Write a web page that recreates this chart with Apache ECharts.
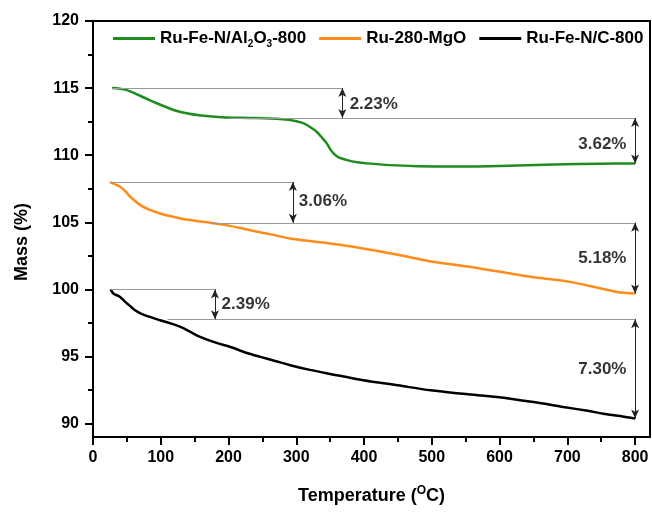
<!DOCTYPE html>
<html>
<head>
<meta charset="utf-8">
<script src="https://cdn.jsdelivr.net/npm/echarts@6/dist/echarts.min.js"></script>
<style>
  html, body { margin: 0; padding: 0; background: #fff; }
  #chart { width: 652px; height: 513px; }
</style>
</head>
<body>
<div id="chart"></div>
<script>
// TGA curves
const tempGreen = [28, 40, 50, 60, 75, 90, 105, 120, 140, 160, 190, 230, 260, 280, 295, 311, 322, 330, 338, 345, 350, 355, 362, 375, 390, 404, 438, 480, 530, 600, 680, 750, 800]
const massGreen = [115.0, 114.95, 114.85, 114.65, 114.3, 113.95, 113.65, 113.35, 113.1, 112.95, 112.83, 112.78, 112.74, 112.68, 112.58, 112.37, 112.05, 111.75, 111.3, 110.88, 110.45, 110.13, 109.85, 109.63, 109.47, 109.39, 109.26, 109.18, 109.15, 109.2, 109.3, 109.37, 109.38]

const tempOrange = [25, 32, 40, 48, 55, 70, 85, 99, 115, 129, 150, 173, 200, 232, 260, 291, 320, 350, 399, 448, 497, 571, 645, 704, 743, 773, 800]
const massOrange = [108.0, 107.85, 107.65, 107.3, 106.9, 106.28, 105.9, 105.66, 105.45, 105.29, 105.12, 104.96, 104.75, 104.41, 104.12, 103.79, 103.6, 103.42, 103.05, 102.6, 102.1, 101.56, 100.94, 100.56, 100.14, 99.81, 99.69]

const tempBlack = [26, 30, 40, 48, 55, 62, 70, 85, 99, 114, 129, 143, 158, 180, 203, 225, 247, 270, 291, 320, 350, 399, 450, 498, 550, 596, 650, 694, 730, 753, 780, 800]
const massBlack = [100.0, 99.7, 99.44, 99.05, 98.75, 98.45, 98.22, 97.93, 97.7, 97.47, 97.2, 96.85, 96.46, 96.05, 95.71, 95.3, 94.97, 94.65, 94.35, 94.0, 93.7, 93.23, 92.85, 92.48, 92.2, 91.98, 91.6, 91.24, 90.95, 90.74, 90.55, 90.37]

const seriesNames = ['Ru-Fe-N/Al2O3-800', 'Ru-280-MgO', 'Ru-Fe-N/C-800']
const seriesColors = ['#1e8c1e', '#ff8c1a', '#000000']

const xTicks = [0, 100, 200, 300, 400, 500, 600, 700, 800]
const xMinorTicks = [50, 150, 250, 350, 450, 550, 650, 750]
const yTicks = [90, 95, 100, 105, 110, 115, 120]
const yMinorTicks = [92.5, 97.5, 102.5, 107.5, 112.5, 117.5]

// gray guide lines: [xStart, xEnd, y]
const guideLines = [
  [28, 368, 115], [200, 800, 112.77],
  [25, 295, 108], [173, 800, 104.96],
  [26, 180, 100], [110, 800, 97.78]
]
// double arrows: [x, yTop, yBottom]
const arrowLines = [
  [368, 115, 112.77], [800, 112.77, 109.38],
  [295, 108, 104.96], [800, 104.96, 99.69],
  [180, 100, 97.78], [800, 97.78, 90.37]
]
// loss labels: [x, y, text, side]
const lossLabels = [
  [378, 113.81, '2.23%', 'right'], [788, 110.83, '3.62%', 'left'],
  [303, 106.53, '3.06%', 'right'], [788, 102.3, '5.18%', 'left'],
  [189, 98.87, '2.39%', 'right'], [788, 94.03, '7.30%', 'left']
]

const font = 'Liberation Sans, Arial, sans-serif'
const zip = (xs, ys) => xs.map((x, i) => [x, ys[i]])

const chart = echarts.init(document.getElementById('chart'))

const curve = (i, xs, ys) => ({
  name: seriesNames[i],
  type: 'line',
  data: zip(xs, ys),
  smooth: 0.3,
  symbol: 'none',
  color: seriesColors[i],
  lineStyle: { color: seriesColors[i], width: 2.5 },
  z: 3
})

const legendFormat = (name) => {
  if (name === 'Ru-Fe-N/Al2O3-800') return '{n|Ru-Fe-N/Al}{s|2}{n|O}{s|3}{n|-800}'
  return '{n|' + name + '}'
}

chart.setOption({
  animation: false,
  backgroundColor: '#fff',
  grid: {
    left: 93, right: 2, top: 21, bottom: 76,
    show: true, borderColor: '#000', borderWidth: 2
  },
  legend: {
    data: seriesNames,
    left: 113,
    top: 30,
    padding: 0,
    icon: 'rect',
    itemWidth: 42,
    itemHeight: 3,
    itemGap: 13,
    formatter: legendFormat,
    textStyle: {
      rich: {
        n: { fontFamily: font, fontWeight: 'bold', fontSize: 17, color: '#000' },
        s: { fontFamily: font, fontWeight: 'bold', fontSize: 10, color: '#000', verticalAlign: 'bottom', padding: [12, 0, 0, 0] }
      }
    }
  },
  xAxis: [
    {
      type: 'value', min: 0, max: 822,
      name: '{t|Temperature (}{u|O}{t|C)}',
      nameLocation: 'middle',
      nameGap: 48,
      nameTextStyle: {
        rich: {
          t: { fontFamily: font, fontWeight: 'bold', fontSize: 18, color: '#000' },
          u: { fontFamily: font, fontWeight: 'bold', fontSize: 12, color: '#000', verticalAlign: 'top', padding: [0, 0, 10, 0] }
        }
      },
      axisLine: { show: true, lineStyle: { color: '#000', width: 2 } },
      axisTick: { customValues: xTicks, length: 8, lineStyle: { color: '#000', width: 2 } },
      axisLabel: { customValues: xTicks, margin: 13, fontFamily: font, fontWeight: 'bold', fontSize: 16, color: '#000' },
      splitLine: { show: false }
    },
    {
      type: 'value', min: 0, max: 822, position: 'bottom',
      axisLine: { show: false },
      axisTick: { customValues: xMinorTicks, length: 5, lineStyle: { color: '#000', width: 2 } },
      axisLabel: { show: false },
      splitLine: { show: false }
    }
  ],
  yAxis: [
    {
      type: 'value', min: 89, max: 120,
      name: 'Mass (%)',
      nameLocation: 'middle',
      nameGap: 62,
      nameTextStyle: { fontFamily: font, fontWeight: 'bold', fontSize: 18, color: '#000', padding: [0, 26, 0, 0] },
      axisLine: { show: true, lineStyle: { color: '#000', width: 2 } },
      axisTick: { customValues: yTicks, length: 8, lineStyle: { color: '#000', width: 2 } },
      axisLabel: { customValues: yTicks, margin: 14, fontFamily: font, fontWeight: 'bold', fontSize: 16, color: '#000' },
      splitLine: { show: false }
    },
    {
      type: 'value', min: 89, max: 120, position: 'left',
      axisLine: { show: false },
      axisTick: { customValues: yMinorTicks, length: 5, lineStyle: { color: '#000', width: 2 } },
      axisLabel: { show: false },
      splitLine: { show: false }
    }
  ],
  series: [
    curve(0, tempGreen, massGreen),
    curve(1, tempOrange, massOrange),
    curve(2, tempBlack, massBlack),
    {
      name: 'guides',
      type: 'line',
      data: [],
      silent: true,
      z: 2,
      markLine: {
        silent: true,
        symbol: ['none', 'none'],
        label: { show: false },
        lineStyle: { color: '#9a9a9a', width: 1, type: 'solid' },
        data: guideLines.map(g => [{ coord: [g[0], g[2]] }, { coord: [g[1], g[2]] }])
      }
    },
    {
      name: 'arrows',
      type: 'line',
      data: [],
      silent: true,
      z: 4,
      markLine: {
        silent: true,
        symbol: ['arrow', 'arrow'],
        symbolSize: [6, 9],
        label: { show: false },
        lineStyle: { color: '#222', width: 1, type: 'solid' },
        data: arrowLines.map(a => [{ coord: [a[0], a[1]] }, { coord: [a[0], a[2]] }])
      }
    },
    {
      name: 'labels',
      type: 'scatter',
      data: lossLabels.map(l => ({
        value: [l[0], l[1]],
        label: { position: l[3], formatter: l[2], color: '#000' }
      })),
      symbolSize: 1,
      itemStyle: { color: 'rgba(0,0,0,0)' },
      label: { show: true, distance: 0, fontFamily: font, fontWeight: 'bold', fontSize: 17, color: '#000' },
      silent: true,
      z: 5
    }
  ]
})
</script>
</body>
</html>
